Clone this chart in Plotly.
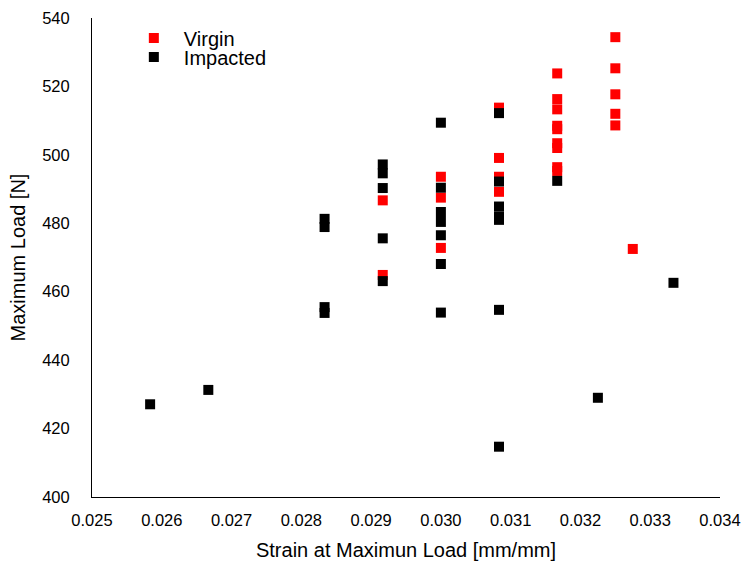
import plotly.graph_objects as go

# Virgin specimens
virgin_strain = [0.029167, 0.029167,
                 0.030, 0.030, 0.030,
                 0.030833, 0.030833, 0.030833, 0.030833,
                 0.031667, 0.031667, 0.031667, 0.031667, 0.031667, 0.031667, 0.031667, 0.031667, 0.031667,
                 0.0325, 0.0325, 0.0325, 0.0325, 0.0325,
                 0.03275]
virgin_load = [486.7, 464.9,
               493.6, 487.5, 472.8,
               513.8, 499.1, 493.6, 489.2,
               523.8, 516.3, 513.3, 508.5, 507.5, 503.4, 502.0, 496.4, 495.3,
               534.4, 525.3, 517.7, 512.0, 508.6,
               472.5]

# Impacted specimens
impacted_strain = [0.025833,
                   0.026667,
                   0.028333, 0.028333, 0.028333, 0.028333,
                   0.029167, 0.029167, 0.029167, 0.029167, 0.029167,
                   0.030, 0.030, 0.030, 0.030, 0.030, 0.030, 0.030,
                   0.030833, 0.030833, 0.030833, 0.030833, 0.030833, 0.030833, 0.030833,
                   0.031667,
                   0.03225,
                   0.033333]
impacted_load = [427.1,
                 431.3,
                 481.3, 478.9, 455.5, 453.8,
                 497.2, 494.6, 490.3, 475.6, 463.1,
                 509.4, 490.4, 483.3, 480.4, 476.5, 468.1, 453.9,
                 512.2, 492.2, 484.9, 482.0, 481.0, 454.7, 414.7,
                 492.4,
                 429.0,
                 462.6]

x_ticks = [0.025, 0.026, 0.027, 0.028, 0.029, 0.030, 0.031, 0.032, 0.033, 0.034]
y_ticks = [400, 420, 440, 460, 480, 500, 520, 540]

FONT = "Liberation Sans, Arial, sans-serif"

fig = go.Figure()
fig.add_trace(go.Scatter(x=virgin_strain, y=virgin_load, mode="markers", name="Virgin",
                         legend="legend",
                         marker=dict(symbol="square", size=10, color="#FF0000",
                                     line=dict(width=0))))
fig.add_trace(go.Scatter(x=impacted_strain, y=impacted_load, mode="markers", name="Impacted",
                         legend="legend2",
                         marker=dict(symbol="square", size=10, color="#000000",
                                     line=dict(width=0))))

leg_common = dict(xanchor="left", yanchor="middle", x=0.0507,
                  font=dict(size=20, family=FONT, color="#000000"),
                  bgcolor="rgba(0,0,0,0)", itemwidth=50, borderwidth=0)

fig.update_layout(
    width=745, height=570,
    margin=dict(l=92, r=25, t=18, b=73),
    plot_bgcolor="white", paper_bgcolor="white",
    font=dict(family=FONT, color="#000000", size=16.5),
    showlegend=True,
    legend=dict(y=0.958, **leg_common),
    legend2=dict(y=0.9186, **leg_common),
    xaxis=dict(range=[0.025, 0.034], tickvals=x_ticks,
               ticktext=[f"{v:.3f}" for v in x_ticks],
               showline=True, linecolor="#000000", linewidth=1, mirror=False,
               showgrid=False, zeroline=False, ticks="", automargin=False,
               ticklabelstandoff=8,
               tickfont=dict(size=16.5, family=FONT, color="#000000"),
               title=dict(text="Strain at Maximun Load [mm/mm]", standoff=15,
                          font=dict(size=20, family=FONT, color="#000000"))),
    yaxis=dict(range=[400, 540], tickvals=y_ticks,
               showline=True, linecolor="#000000", linewidth=1,
               showgrid=False, zeroline=False, ticks="", automargin=False,
               ticklabelstandoff=18,
               tickfont=dict(size=16.5, family=FONT, color="#000000"),
               title=dict(text="Maximum Load [N]", standoff=11,
                          font=dict(size=20, family=FONT, color="#000000"))),
)

fig.write_html("out.html",
               config={"displayModeBar": False},
               post_script="document.body.style.margin='0';document.body.style.overflow='hidden';")
